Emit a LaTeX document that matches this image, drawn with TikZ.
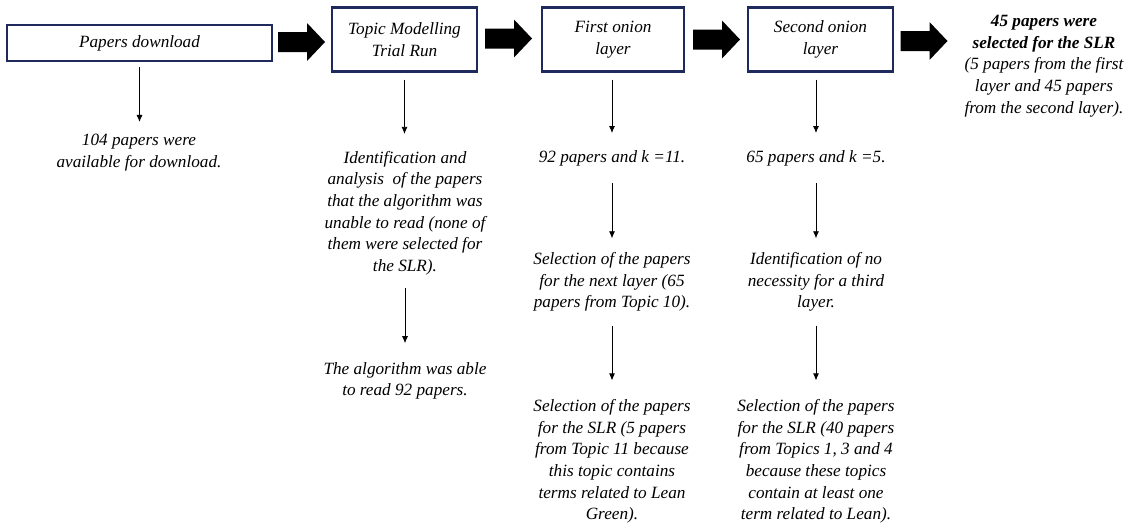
\documentclass[tikz,border=0pt]{standalone}
\usepackage{fontspec}
\setmainfont{Liberation Serif}
\usetikzlibrary{arrows.meta}
\definecolor{navy}{RGB}{31,42,92}
\tikzset{
  box/.style={draw=navy, line width=2.4pt, align=center, inner sep=0pt, font=\fontsize{17.2}{21.6}\selectfont\itshape},
  txt/.style={align=center, inner sep=0pt, font=\fontsize{17.2}{21.6}\selectfont\itshape},
  arr/.style={-{Latex[length=7pt,width=6pt]}, line width=0.8pt},
  bigarrow/.pic={\fill[black] (-23.5,-10) -- (5.5,-10) -- (5.5,-19) -- (23.5,0) -- (5.5,19) -- (5.5,10) -- (-23.5,10) -- cycle;}
}
\begin{document}
\begin{tikzpicture}[x=1pt,y=-1pt]
\useasboundingbox (0,0) rectangle (1141,525);
% boxes
\node[box, minimum width=265pt, minimum height=36pt] (b1) at (139.5,43) {Papers download};
\node[box, minimum width=145pt, minimum height=64pt] (b2) at (404.5,39.5) {Topic Modelling\\Trial Run};
\node[box, minimum width=142pt, minimum height=64pt] (b3) at (613,39.5) {First onion\\layer};
\node[box, minimum width=145pt, minimum height=64pt] (b4) at (820.5,39.5) {Second onion\\layer};
\node[txt] (fin) at (1044,66) {\textbf{45 papers were}\\\textbf{selected for the SLR}\\(5 papers from the first\\layer and 45 papers\\from the second layer).};
% big arrows
\pic at (301.5,42) {bigarrow};
\pic at (508.5,38.5) {bigarrow};
\pic at (716.5,39.5) {bigarrow};
\pic at (924,41) {bigarrow};
% column 1
\node[txt] (t11) at (139,152.5) {104 papers were\\available for download.};
% column 2
\node[txt] (t21) at (405,213) {Identification and\\analysis\ \ of the papers\\that the algorithm was\\unable to read (none of\\them were selected for\\the SLR).};
\node[txt] (t22) at (405,381) {The algorithm was able\\to read 92 papers.};
% column 3
\node[txt] (t31) at (612,158) {92 papers and k =11.};
\node[txt] (t32) at (612,282) {Selection of the papers\\for the next layer (65\\papers from Topic 10).};
\node[txt] (t33) at (612,461.5) {Selection of the papers\\for the SLR (5 papers\\from Topic 11 because\\this topic contains\\terms related to Lean\\Green).};
% column 4
\node[txt] (t41) at (816,158) {65 papers and k =5.};
\node[txt] (t42) at (816,282) {Identification of no\\necessity for a third\\layer.};
\node[txt] (t43) at (816,461.5) {Selection of the papers\\for the SLR (40 papers\\from Topics 1, 3 and 4\\because these topics\\contain at least one\\term related to Lean).};
% vertical arrows
\draw[arr, shorten <=5pt, shorten >=12pt] (b1.south) -- (t11.north -| b1.south);
\draw[arr, shorten <=7pt, shorten >=17pt] (b2.south) -- (t21.north -| b2.south);
\draw[arr, shorten <=13pt, shorten >=19pt] (t21) -- (t22);
\draw[arr, shorten <=7pt, shorten >=17pt] (b3.south -| t31) -- (t31);
\draw[arr, shorten <=17pt, shorten >=14pt] (t31) -- (t32);
\draw[arr, shorten <=14pt, shorten >=19pt] (t32) -- (t33);
\draw[arr, shorten <=7pt, shorten >=17pt] (b4.south -| t41) -- (t41);
\draw[arr, shorten <=17pt, shorten >=14pt] (t41) -- (t42);
\draw[arr, shorten <=14pt, shorten >=19pt] (t42) -- (t43);
\end{tikzpicture}
\end{document}
